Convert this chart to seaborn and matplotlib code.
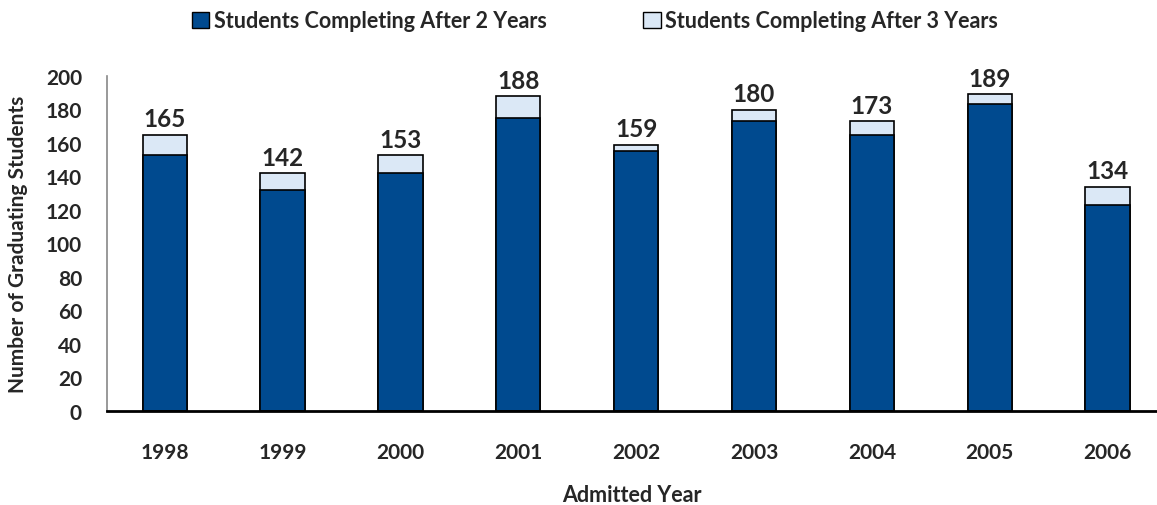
import numpy as np
import pandas as pd
import seaborn as sns
import matplotlib.pyplot as plt
from matplotlib.patches import Patch

years = ["1998", "1999", "2000", "2001", "2002", "2003", "2004", "2005", "2006"]
after_2_years = [153, 132, 142, 175, 155, 173, 165, 183, 123]
total = [165, 142, 153, 188, 159, 180, 173, 189, 134]

dark = "#004a8f"
light = "#dbe8f6"

sns.set_style("white")
plt.rcParams["font.family"] = ["Lato", "DejaVu Sans"]
plt.rcParams["font.weight"] = "bold"

df = pd.DataFrame({"year": years, "two": after_2_years, "total": total})

fig = plt.figure(figsize=(11.57, 5.06), dpi=100)
ax = fig.add_axes([107 / 1157, 94 / 506, 1 - 107 / 1157, 335 / 506])

# light bar = total, dark bar drawn over it
sns.barplot(data=df, x="year", y="total", color=light, width=0.375,
            edgecolor="black", linewidth=1.2, saturation=1, ax=ax)
sns.barplot(data=df, x="year", y="two", color=dark, width=0.375,
            edgecolor="black", linewidth=1.2, saturation=1, ax=ax)

for i, v in enumerate(total):
    ax.text(i, v + 2.5, str(v), ha="center", va="bottom", fontsize=17.5, fontweight="bold")

ax.set_ylim(0, 200)
ax.set_xlim(-0.49, 8.42)
ax.set_yticks(np.arange(0, 201, 20))
ax.tick_params(axis="y", direction="out", length=5, color="#888888", pad=13, labelsize=15)
ax.tick_params(axis="x", length=0, pad=22, labelsize=15)
for lab in ax.get_xticklabels() + ax.get_yticklabels():
    lab.set_fontweight("bold")

ax.spines["top"].set_visible(False)
ax.spines["right"].set_visible(False)
ax.spines["left"].set_color("#888888")
ax.spines["left"].set_linewidth(1.2)
ax.spines["bottom"].set_color("black")
ax.spines["bottom"].set_linewidth(2)

ax.set_xlabel("Admitted Year", fontsize=15.5, fontweight="bold", va="center")
ax.xaxis.set_label_coords(0.5, (412 - 496) / 335)
ax.set_ylabel("Number of Graduating Students", fontsize=15, fontweight="bold", va="center")
ax.yaxis.set_label_coords((18 - 107) / 1050, 0.5)

handles = [Patch(facecolor=dark, edgecolor="black", label="Students Completing After 2 Years"),
           Patch(facecolor=light, edgecolor="black", label="Students Completing After 3 Years")]
fig.legend(handles=handles, loc="center", bbox_to_anchor=(595 / 1157, 1 - 22 / 506),
           ncol=2, frameon=False, handlelength=0.8, handleheight=0.8,
           handletextpad=0.2, columnspacing=4.5, borderpad=0,
           prop={"weight": "bold", "size": 15.5})

fig.savefig("out.png", dpi=100)
